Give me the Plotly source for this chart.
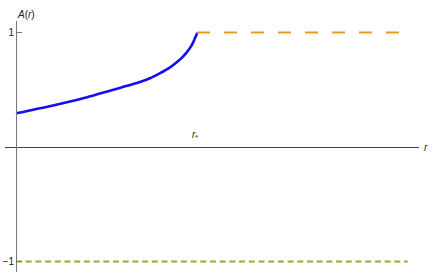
import plotly.graph_objects as go

# Blue branch: A(r) for 0 <= r <= r_*
r_in = [0, 0.173, 0.357, 0.519, 0.685, 0.74, 0.796, 0.851, 0.888, 0.924, 0.943, 0.971, 0.98, 0.989, 0.996, 0.9995, 1.0]
A_in = [0.294, 0.352, 0.42, 0.492, 0.568, 0.60, 0.645, 0.696, 0.74, 0.792, 0.826, 0.89, 0.918, 0.952, 0.975, 0.992, 1.0]

# Orange dashed: A = 1 for r >= r_*
r_out = [1.0, 2.14]
A_out = [1, 1]

# Green dashed: A = -1
r_neg = [0, 2.165]
A_neg = [-1, -1]

ytick_vals = [1, -1]
ytick_text = ["1", "\u22121"]

W, H = 436, 275
L, R, T, B = 5, 17, 21, 3
x_range = [-0.0608, 2.2265]
y_range = [-1.0917, 1.1004]

fig = go.Figure()
fig.add_trace(go.Scatter(x=r_in, y=A_in, mode="lines", line=dict(color="#1010f0", width=2.6, shape="spline", smoothing=0.6),
                         hoverinfo="skip", showlegend=False))
fig.add_trace(go.Scatter(x=r_out, y=A_out, mode="lines", line=dict(color="#E19C24", width=2.2, dash="13px,14px"),
                         hoverinfo="skip", showlegend=False))
fig.add_trace(go.Scatter(x=r_neg, y=A_neg, mode="lines", line=dict(color="#8FB032", width=2, dash="6px,3.7px"),
                         hoverinfo="skip", showlegend=False))

# positions of axes crossing at origin
ypos = (0 - x_range[0]) / (x_range[1] - x_range[0])
xpos = (0 - y_range[0]) / (y_range[1] - y_range[0])

pw, ph = W - L - R, H - T - B

fig.update_layout(
    width=W, height=H,
    margin=dict(l=L, r=R, t=T, b=B, autoexpand=False),
    paper_bgcolor="white", plot_bgcolor="white",
    font=dict(family="Liberation Sans, Arial, sans-serif", size=10, color="#222"),
    xaxis=dict(range=x_range, showgrid=False, zeroline=False, showline=True, linecolor="#444", linewidth=1,
               anchor="free", position=xpos, showticklabels=False, ticks="", automargin=False),
    yaxis=dict(range=y_range, showgrid=False, zeroline=False, showline=True, linecolor="#777", linewidth=1,
               anchor="free", position=ypos, tickvals=ytick_vals, ticktext=ytick_text, automargin=False,
               ticks="inside", ticklen=5, tickcolor="#777", tickfont=dict(size=10, color="#222")),
    annotations=[
        dict(text="<i>A</i>(<i>r</i>)", xref="paper", yref="paper", x=(15 - L) / pw, y=1 + (T - 7) / ph,
             showarrow=False, font=dict(size=10, color="#222")),
        dict(text="<i>r</i>", xref="paper", yref="y", x=1 + (430 - (W - R)) / pw, y=0,
             showarrow=False, font=dict(size=10, color="#222")),
        dict(text="<i>r</i><sub>*</sub>", xref="x", yref="y", x=1, y=0, yshift=12, xshift=-2,
             showarrow=False, font=dict(size=10, color="#222")),
    ],
)

fig.write_html("out.html", config={"displayModeBar": False},
               post_script="document.body.style.margin='0';document.body.style.padding='0';")
